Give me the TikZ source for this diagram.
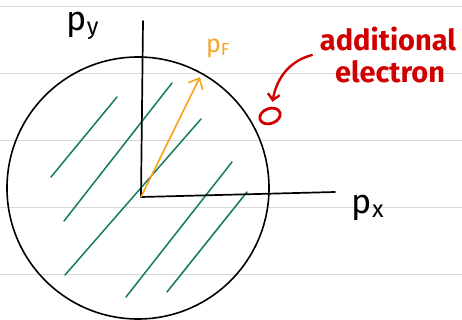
\documentclass[tikz,border=0pt]{standalone}
\usepackage{fontspec}
\setsansfont{Fira Sans}
\usetikzlibrary{arrows.meta,shapes.geometric}
\definecolor{ruleline}{HTML}{D9D9D9}
\definecolor{hatch}{HTML}{167A5C}
\definecolor{fermi}{HTML}{F5A623}
\definecolor{extra}{HTML}{D00000}
\begin{document}
\begin{tikzpicture}[x=1pt,y=-1pt,line cap=round,>={Straight Barb[length=9pt,width=16pt]},
  hand/.style={font=\sffamily\fontsize{34}{34}\selectfont,inner sep=0pt},
  note/.style={hand,extra,font=\sffamily\bfseries\fontsize{29}{29}\selectfont}]
\useasboundingbox (0,0) rectangle (462,320);
% ruled paper
\foreach \y in {7,74,141,207,274}
  \draw[ruleline,line width=1pt] (0,\y) -- (462,\y);
% Fermi sphere
\draw[line width=1.6pt] (138,188) circle[radius=131pt];
\foreach \xa/\ya/\xb/\yb in {51/177/117/97,64/221/172/83,65/275/201/119,126/297/232/162,167/292/247/192}
  \draw[hatch,line width=1.5pt] (\xa,\ya) -- (\xb,\yb);
% axes
\coordinate (O) at (141,197);
\coordinate (ytop) at (143,21);
\coordinate (xend) at (335,192);
\draw[line width=1.7pt] (ytop) -- (O) -- (xend);
\node[hand] (py) at (83,26) {p\textsubscript{y}};
\node[hand] (px) at (368,208) {p\textsubscript{x}};
% Fermi momentum
\coordinate (kF) at (200,77);
\draw[fermi,line width=1.7pt,->] (O) -- (kF);
\node[hand,fermi,font=\sffamily\fontsize{25}{25}\selectfont] (pf) at (218,48) {p\textsubscript{F}};
% extra electron
\node[note] (addl) at (388,39) {additional};
\node[note] (elec) at (390,72) {electron};
\node[draw=extra,ellipse,line width=2.8pt,minimum width=21pt,minimum height=15pt,rotate=20] (electron) at (270,116) {};
\coordinate (tail) at (312,55);
\draw[extra,line width=2.4pt,->,>={Straight Barb[length=6pt,width=12pt]},shorten >=5pt] (tail) to[out=195,in=75] (electron);
\end{tikzpicture}
\end{document}
